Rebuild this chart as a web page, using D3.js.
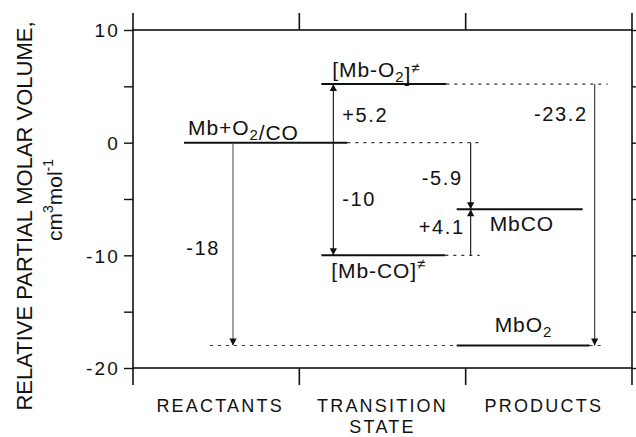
<!DOCTYPE html>
<html>
<head>
<meta charset="utf-8">
<script src="https://cdn.jsdelivr.net/npm/d3@7/dist/d3.min.js"></script>
<style>
  html, body { margin: 0; padding: 0; background: #fff; }
  svg { display: block; }
  text { font-family: "Liberation Sans", Arial, Helvetica, sans-serif; fill: #111; }
</style>
</head>
<body>
<svg id="chart" width="636" height="437"></svg>
<script>
// ---- data ----
const categories = ["REACTANTS", "TRANSITION STATE", "PRODUCTS"];
const categoryLines = [["REACTANTS"], ["TRANSITION", "STATE"], ["PRODUCTS"]];
const yTicks = [10, 0, -10, -20];
const yMinorTicks = [5, -5, -15];
const levelNames = ["Mb+O2/CO", "[Mb-O2]≠", "[Mb-CO]≠", "MbCO", "MbO2"];
const levelValues = [0, 5.2, -10, -5.9, -18];
const arrowFrom = [0, 0, 0, 0, -10, 5.2];
const arrowTo = [-18, 5.2, -10, -5.9, -5.9, -18];
const arrowLabels = ["-18", "+5.2", "-10", "-5.9", "+4.1", "-23.2"];

// ---- layout ----
const svg = d3.select("#chart");
const L = 133, R = 632, T = 30, B = 368;
const x = d3.scaleBand().domain(categories).range([L, R]).paddingInner(0).paddingOuter(0);
const y = d3.scaleLinear().domain([-20, 10]).range([B, T]);
const bw = x.bandwidth();
const bx = i => x(categories[i]);
const ink = "#111";

// frame
svg.append("rect").attr("x", L).attr("y", T).attr("width", R - L).attr("height", B - T)
  .attr("fill", "none").attr("stroke", ink).attr("stroke-width", 1.6);

// category boundary ticks (top & bottom), extending past frame
const bounds = [L, bx(1), bx(2), R];
bounds.forEach(bxv => {
  svg.append("line").attr("x1", bxv).attr("x2", bxv).attr("y1", T - 17).attr("y2", T)
    .attr("stroke", ink).attr("stroke-width", 1.6);
  svg.append("line").attr("x1", bxv).attr("x2", bxv).attr("y1", B).attr("y2", B + 17)
    .attr("stroke", ink).attr("stroke-width", 1.6);
});

// y axis left
const yAxisL = d3.axisLeft(y).tickValues(yTicks.concat(yMinorTicks)).tickSize(9)
  .tickFormat(d => yTicks.includes(d) ? (d < 0 ? "-" + Math.abs(d) : String(d)) : "");
const gL = svg.append("g").attr("transform", `translate(${L},0)`).call(yAxisL);
gL.select(".domain").remove();
gL.selectAll(".tick line").attr("stroke", ink).attr("stroke-width", 1.4);
gL.selectAll(".tick text").attr("x", -13).attr("dy", "0.36em")
  .style("font-size", "19px").style("letter-spacing", "2.2px").attr("fill", ink);

// y axis right
const yAxisR = d3.axisRight(y).tickValues(yTicks.concat(yMinorTicks)).tickSize(9).tickFormat("");
const gR = svg.append("g").attr("transform", `translate(${R},0)`).call(yAxisR);
gR.select(".domain").remove();
gR.selectAll(".tick line").attr("stroke", ink).attr("stroke-width", 1.4);

// category labels
const catShift = [4, 0, -5];
categoryLines.forEach((lines, i) => {
  const cx = bx(i) + bw / 2 + catShift[i];
  const t = svg.append("text").attr("x", cx)
    .attr("y", 412).attr("text-anchor", "middle")
    .style("font-size", "18px").style("letter-spacing", "2.2px");
  lines.forEach((ln, j) => {
    t.append("tspan").attr("x", cx).attr("dy", j === 0 ? 0 : 21).text(ln);
  });
});

// axis title
svg.append("text").attr("transform", "translate(32,216) rotate(-90)")
  .attr("text-anchor", "middle").style("font-size", "22px")
  .text("RELATIVE PARTIAL MOLAR VOLUME,");
const t2 = svg.append("text").attr("transform", "translate(62,200) rotate(-90)")
  .attr("text-anchor", "middle").style("font-size", "21px");
t2.append("tspan").text("cm");
t2.append("tspan").attr("dy", -9).style("font-size", "14px").text("3");
t2.append("tspan").attr("dy", 9).text("mol");
t2.append("tspan").attr("dy", -9).style("font-size", "14px").text("-1");

// ---- levels: solid and dotted segments in px relative to bands ----
const solidSeg = [
  [bx(0) + 51, bx(1) + 48],
  [bx(1) + 22, bx(1) + 147],
  [bx(1) + 22, bx(1) + 146],
  [bx(2) - 9, bx(2) + 117],
  [bx(2) - 9, bx(2) + 124]
];
const dotSeg = [
  [[bx(1) + 48, bx(2) + 16]],
  [[bx(1) + 147, bx(2) + 142]],
  [[bx(1) + 146, bx(2) + 14]],
  [],
  [[bx(0) + 77, bx(2) - 9], [bx(2) + 124, bx(2) + 139]]
];
levelValues.forEach((v, i) => {
  svg.append("line").attr("x1", solidSeg[i][0]).attr("x2", solidSeg[i][1])
    .attr("y1", y(v)).attr("y2", y(v)).attr("stroke", ink).attr("stroke-width", 2);
  dotSeg[i].forEach(s => {
    svg.append("line").attr("x1", s[0]).attr("x2", s[1]).attr("y1", y(v)).attr("y2", y(v))
      .attr("stroke", "#333").attr("stroke-width", 1.1).attr("stroke-dasharray", "3,5");
  });
});

// level labels
function subLabel(txt, xPos, yPos) {
  const t = svg.append("text").attr("x", xPos).attr("y", yPos)
    .style("font-size", "21px").style("letter-spacing", "0.9px");
  const parts = txt.split(/(O2)/);
  parts.forEach(p => {
    if (p === "O2") {
      t.append("tspan").text("O");
      t.append("tspan").attr("dy", 5).style("font-size", "15px").text("2");
      t.append("tspan").attr("dy", -5).text("");
    } else if (p.includes("≠")) {
      const a = p.split("≠")[0];
      t.append("tspan").text(a);
      t.append("tspan").attr("dy", -9).style("font-size", "15px").text("≠");
    } else {
      t.append("tspan").text(p);
    }
  });
  return t;
}
const lvlLabelPos = [
  [bx(0) + 55, y(levelValues[0]) - 8],
  [bx(1) + 33, y(levelValues[1]) - 7],
  [bx(1) + 32, y(levelValues[2]) + 23],
  [bx(2) + 24, y(levelValues[3]) + 22],
  [bx(2) + 29, y(levelValues[4]) - 13]
];
levelNames.forEach((n, i) => subLabel(n, lvlLabelPos[i][0], lvlLabelPos[i][1]));

// ---- arrows ----
const arrowX = [bx(0) + 100, bx(1) + 34, bx(1) + 34, bx(2) + 5, bx(2) + 5, bx(2) + 129];
const arrowColor = ["#555", "#111", "#111", "#111", "#111", "#333"];
arrowFrom.forEach((f, i) => {
  const xa = arrowX[i];
  const y1 = y(f), y2 = y(arrowTo[i]);
  const dir = y2 > y1 ? 1 : -1;
  svg.append("line").attr("x1", xa).attr("x2", xa).attr("y1", y1).attr("y2", y2)
    .attr("stroke", arrowColor[i]).attr("stroke-width", 1.1);
  const h = 7, w = 3.6;
  svg.append("path")
    .attr("d", `M${xa},${y2} L${xa - w},${y2 - dir * h} L${xa + w},${y2 - dir * h} Z`)
    .attr("fill", ink);
});

// arrow labels
const arrowLabelX = [arrowX[0] - 13, arrowX[1] + 9, arrowX[2] + 9, arrowX[3] - 8, arrowX[4] - 6, arrowX[5] - 7];
const arrowLabelAnchor = ["end", "start", "start", "end", "end", "end"];
const arrowLabelY = [
  (y(arrowFrom[0]) + y(arrowTo[0])) / 2 + 4,
  (y(arrowFrom[1]) + y(arrowTo[1])) / 2 + 1,
  (y(arrowFrom[2]) + y(arrowTo[2])) / 2,
  (y(arrowFrom[3]) + y(arrowTo[3])) / 2 + 2,
  (y(arrowFrom[4]) + y(arrowTo[4])) / 2 - 5,
  y(arrowFrom[5]) + 30
];
arrowLabels.forEach((lab, i) => {
  svg.append("text").attr("x", arrowLabelX[i]).attr("y", arrowLabelY[i]).attr("dy", "0.36em")
    .attr("text-anchor", arrowLabelAnchor[i]).style("font-size", "20px").style("letter-spacing", "1.6px")
    .text(lab);
});
</script>
</body>
</html>
